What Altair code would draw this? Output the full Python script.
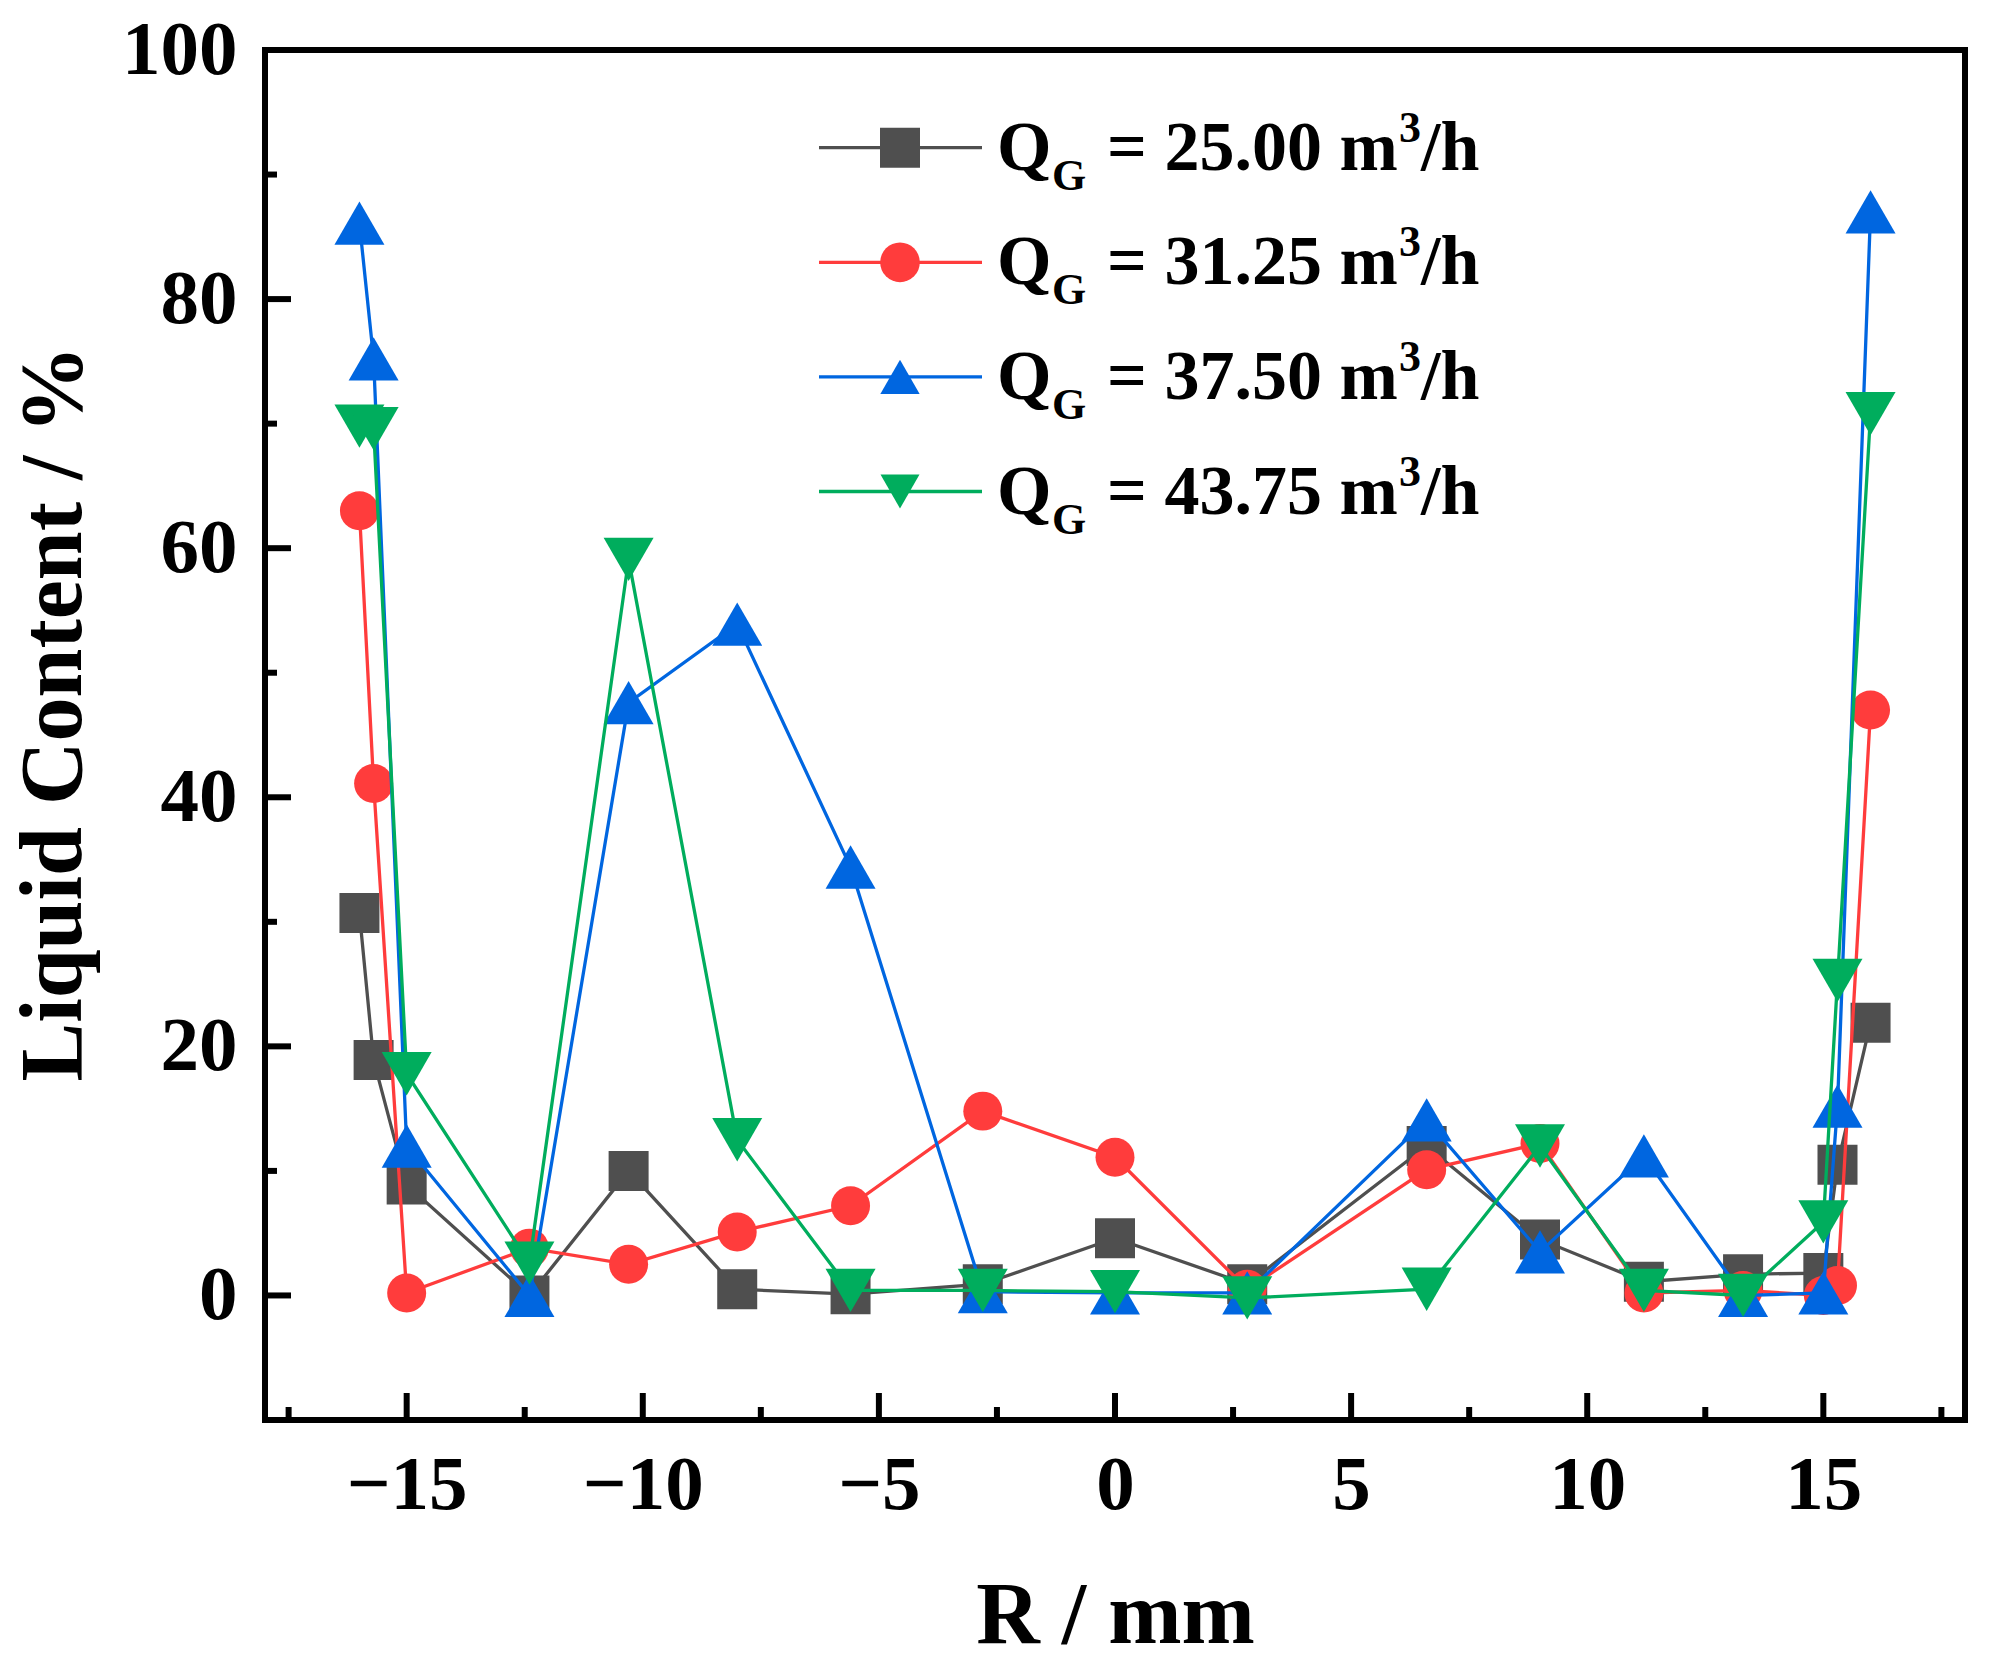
import altair as alt
import pandas as pd

# ---------------- data ----------------
R = [-16, -15.7, -15, -12.4, -10.3, -8, -5.6, -2.8, 0, 2.8, 6.6, 9.0, 11.2, 13.3, 15, 15.3, 16]
q_labels = ["25.00", "31.25", "37.50", "43.75"]
lc_25 = [30.7, 18.9, 8.9, 0.0, 10.0, 0.5, 0.1, 0.9, 4.6, 0.9, 12.0, 4.5, 1.1, 1.7, 1.8, 10.5, 21.9]
lc_3125 = [63.0, 41.1, 0.2, 3.8, 2.5, 5.1, 7.2, 14.8, 11.1, 0.5, 10.1, 12.2, 0.2, 0.4, 0.0, 0.8, 47.0]
lc_375 = [86.1, 75.2, 12.0, 0.0, 47.6, 53.9, 34.4, 0.3, 0.2, 0.2, 14.1, 3.5, 11.2, 0.0, 0.2, 15.2, 87.0]
lc_4375 = [69.8, 69.6, 17.8, 2.6, 59.1, 12.5, 0.4, 0.4, 0.3, -0.2, 0.5, 12.0, 0.4, 0.0, 5.9, 25.3, 70.8]

x_major = [-15, -10, -5, 0, 5, 10, 15]
x_minor = [-17.5, -12.5, -7.5, -2.5, 2.5, 7.5, 12.5, 17.5]
y_major = [0, 20, 40, 60, 80, 100]
y_minor = [10, 30, 50, 70, 90]

# ---------------- styles ----------------
series_names = [f"Q_G = {q} m3/h" for q in q_labels]
colors = ["#4f4f4f", "#ff3c3c", "#0066e0", "#00ad5d"]
shapes = ["square", "circle", "triangle-up", "triangle-down"]
sizes = [1600, 1520, 2500, 2500]
FONT = "Liberation Serif"
W, H = 1700, 1370

rows = []
for s, vals in zip(series_names, [lc_25, lc_3125, lc_375, lc_4375]):
    for r, v in zip(R, vals):
        rows.append({"series": s, "R": r, "LC": v})
df = pd.DataFrame(rows)

xs = alt.Scale(domain=[-18, 18], nice=False, zero=False)
ys = alt.Scale(domain=[-10, 100], nice=False, zero=False)

x_axis = alt.Axis(values=x_major, ticks=False, domain=False, grid=False,
                  labelFont=FONT, labelFontSize=77, labelFontWeight="bold",
                  labelColor="black", labelPadding=27, labelFlush=False,
                  title="R / mm", titleFont=FONT, titleFontSize=88,
                  titleFontWeight="bold", titleColor="black",
                  titleX=W / 2, titleY=222, titleAlign="center",
                  titleBaseline="alphabetic")
y_axis = alt.Axis(values=y_major, ticks=False, domain=False, grid=False,
                  labelFont=FONT, labelFontSize=77, labelFontWeight="bold",
                  labelColor="black", labelPadding=28, labelFlush=False,
                  labelBaseline="middle",
                  title="Liquid Content / %", titleFont=FONT, titleFontSize=88,
                  titleFontWeight="bold", titleColor="black",
                  titleX=-185, titleY=663, titleAngle=270, titleAlign="center",
                  titleBaseline="alphabetic")

layers = []
for i, s in enumerate(series_names):
    sub = alt.Chart(df).transform_filter(alt.datum.series == s)
    line = sub.mark_line(color=colors[i], strokeWidth=3.3).encode(
        x=alt.X("R:Q", scale=xs, axis=x_axis),
        y=alt.Y("LC:Q", scale=ys, axis=y_axis if i == 0 else None),
    )
    pts = sub.mark_point(shape=shapes[i], size=sizes[i], color=colors[i],
                         filled=True, opacity=1, strokeWidth=0).encode(
        x=alt.X("R:Q", scale=xs, axis=x_axis),
        y=alt.Y("LC:Q", scale=ys, axis=None),
    )
    layers += [line, pts]

# ---------------- inward ticks ----------------
def xticks(vals, length):
    return alt.Chart(pd.DataFrame({"R": vals})).mark_rule(color="black", strokeWidth=6).encode(
        x=alt.X("R:Q", scale=xs, axis=x_axis), y=alt.value(H), y2=alt.value(H - length))

def yticks(vals, length):
    return alt.Chart(pd.DataFrame({"t": vals})).mark_rule(color="black", strokeWidth=6).encode(
        y=alt.Y("t:Q", scale=ys, axis=None), x=alt.value(0), x2=alt.value(length))

layers += [xticks(x_major, 27), xticks(x_minor, 13), yticks(y_major, 26), yticks(y_minor, 12)]

# ---------------- legend ----------------
leg = pd.DataFrame({"series": series_names, "q": q_labels, "row": list(range(len(q_labels)))})
ly = alt.Y("row:Q", scale=alt.Scale(domain=[0, 3], range=[97.7, 441.5]), axis=None)
lcolor = alt.Color("series:N", scale=alt.Scale(domain=series_names, range=colors), legend=None)
lbase = alt.Chart(leg)
layers.append(lbase.mark_rule(strokeWidth=3.3).encode(
    x=alt.value(554), x2=alt.value(717), y=ly, color=lcolor))
layers.append(lbase.mark_point(filled=True, opacity=1, strokeWidth=0).encode(
    x=alt.value(635), y=ly, color=lcolor,
    shape=alt.Shape("series:N", scale=alt.Scale(domain=series_names, range=shapes), legend=None),
    size=alt.Size("series:O", scale=alt.Scale(domain=series_names, range=sizes), legend=None)))

def ltext(text, x, size, dy, field=False):
    m = lbase.mark_text(font=FONT, fontSize=size, fontWeight="bold", color="black",
                        align="left", baseline="alphabetic", dy=dy)
    if field:
        return m.transform_calculate(t="'= ' + datum.q + ' m'").encode(
            x=alt.value(x), y=ly, text="t:N")
    return m.encode(x=alt.value(x), y=ly, text=alt.value(text))

layers += [
    ltext("Q", 732, 70, 22),
    ltext("G", 787, 44, 42),
    ltext("", 842, 70, 22, field=True),
    ltext("3", 1134, 44, -6),
    ltext("/h", 1156, 70, 22),
]

chart = alt.layer(*layers).resolve_scale(y="independent").properties(
    width=W, height=H,
    padding={"left": 257, "top": 42, "right": 19, "bottom": 236},
    autosize=alt.AutoSizeParams(type="none"),
    background="white",
).configure_view(stroke="black", strokeWidth=6)

chart.save("out.html", embed_options={"renderer": "svg", "actions": False})
